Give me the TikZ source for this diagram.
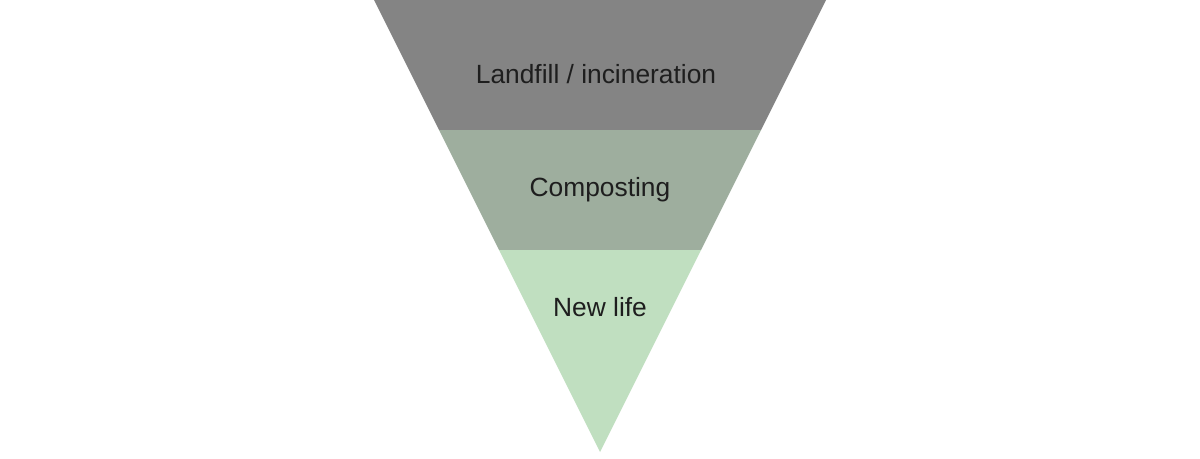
\documentclass[tikz,border=0pt]{standalone}
\usepackage{fontspec}
\setmainfont{Liberation Sans}
\usetikzlibrary{positioning,calc}
\definecolor{Canvas}{HTML}{FFFFFF}
\definecolor{Ash}{HTML}{848484}
\definecolor{Sage}{HTML}{9EAE9E}
\definecolor{Mint}{HTML}{C0DFC0}
\definecolor{Ink}{HTML}{1E1E1E}

\begin{document}
\begin{tikzpicture}[x=0.02cm,y=-0.02cm, band/.style={draw=none}, tier/.style={font=\fontsize{15}{17}\selectfont,text=Ink,inner sep=2pt}]
\useasboundingbox (0,0) rectangle (1200,458);
\fill[Canvas] (0,0) rectangle (1200,458);
\coordinate (TL) at (374,0);
\coordinate (TR) at (826,0);
\coordinate (ML) at (439,130);
\coordinate (MR) at (761,130);
\coordinate (BL) at (499,250);
\coordinate (BR) at (701,250);
\coordinate (Tip) at (600,452);
\fill[band,Ash] (TL)--(TR)--(MR)--(ML)--cycle;
\fill[band,Sage] (ML)--(MR)--(BR)--(BL)--cycle;
\fill[band,Mint] (BL)--(BR)--(Tip)--cycle;
\node[tier] (landfill) at (596,74) {Landfill / incineration};
\node[tier] (compost) at (600,190) {Composting};
\node[tier] (newlife) at (600,307) {New life};
\end{tikzpicture}
\end{document}
